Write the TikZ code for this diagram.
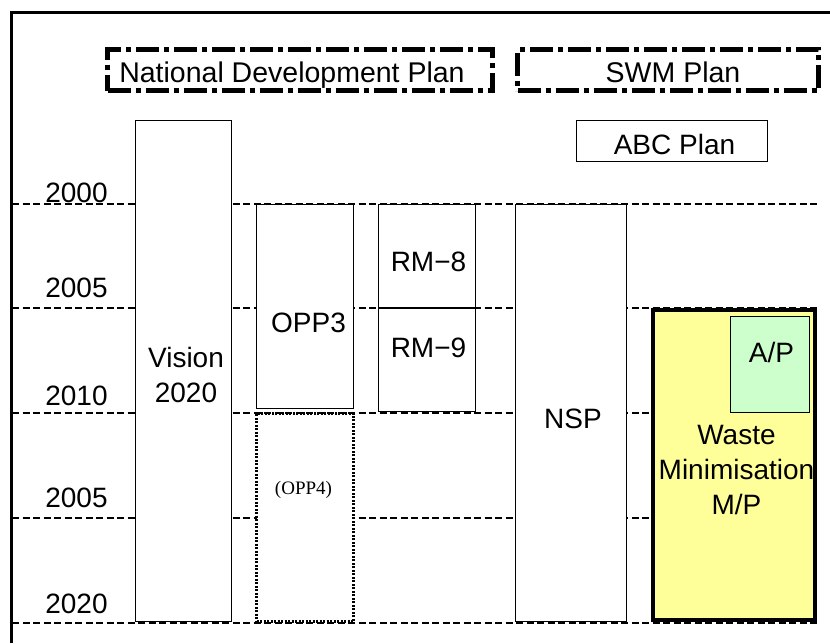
\documentclass[tikz,border=0pt]{standalone}
\usepackage{fontspec}
\setmainfont{Liberation Sans}
\newfontfamily\oppfont{Liberation Serif}
\definecolor{wmyellow}{HTML}{FFFF99}
\definecolor{apgreen}{HTML}{CCFFCC}

\begin{document}
\begin{tikzpicture}[x=1pt, y=-1pt,
    planbox/.style={draw, fill=white, line width=1.8pt, inner sep=0pt},
    headbox/.style={draw, line width=5.5pt, dash pattern=on 23pt off 5pt on 5pt off 5pt, inner sep=0pt},
    gridline/.style={line width=2.6pt, dash pattern=on 7pt off 3.5pt},
    lbl/.style={font=\fontsize{28}{35}\selectfont, inner sep=0pt, anchor=base},
    headlbl/.style={font=\fontsize{28.5}{32}\selectfont, inner sep=0pt, anchor=base}]
    % Page size (830 x 643 px, 1px -> 1pt, y downwards)
    \useasboundingbox (0,0) rectangle (830,643);

    % Outer frame (only left and top edges show)
    \draw[line width=3pt] (11,643) -- (11,12) -- (830,12);

    % Time grid with year labels (line y / label baseline / year)
    \foreach \gy/\by/\yr [count=\k] in {204/202/2000, 308/297/2005, 413/405/2010, 518/507/2005, 623/613/2020} {
        \draw[gridline] (12,\gy) -- (818,\gy);
        \node[lbl] (year\k) at (76.5,\by) {\yr};
    }

    % Plan headers
    \node[headbox, minimum width=385pt, minimum height=41pt] (ndp) at (300,70) {};
    \node[headlbl] (ndptext) at (292,82) {National Development Plan};
    \node[headbox, minimum width=301pt, minimum height=41pt] (swm) at (668,70) {};
    \node[headlbl] (swmtext) at (673,82) {SWM Plan};
    \node[planbox, minimum width=191pt, minimum height=41pt] (abc) at (672,141) {};
    \node[lbl] (abctext) at (674.5,154) {ABC Plan};

    % National development plans
    \node[planbox, minimum width=96pt, minimum height=501pt] (vision) at (183.5,371) {};
    \node[lbl, anchor=center, align=center] (visiontext) at (186,375) {Vision\\2020};
    \node[planbox, minimum width=97pt, minimum height=204pt] (opp3) at (305,306.5) {};
    \node[lbl] (opp3text) at (308.5,332) {OPP3};
    \node[planbox, line width=2.2pt, dash pattern=on 2pt off 1.5pt, minimum width=97pt, minimum height=208pt] (opp4) at (305,517.5) {};
    \node[inner sep=0pt, anchor=base, font=\oppfont\fontsize{19}{22}\selectfont] (opp4text) at (303.5,494) {(OPP4)};
    \node[planbox, minimum width=97pt, minimum height=103pt] (rm8) at (427,256) {};
    \node[lbl] (rm8text) at (428.5,271) {RM−8};
    \node[planbox, minimum width=97pt, minimum height=103pt] (rm9) at (427,360) {};
    \node[lbl] (rm9text) at (428.5,357) {RM−9};

    % SWM plans
    \node[planbox, minimum width=111pt, minimum height=417pt] (nsp) at (571,413) {};
    \node[lbl] (nsptext) at (573,428) {NSP};
    \node[planbox, fill=wmyellow, line width=4pt, minimum width=162pt, minimum height=310pt] (wmmp) at (734,465) {};
    \node[lbl, anchor=center, align=center] (wmmptext) at (736.5,470) {Waste\\Minimisation\\M/P};
    \node[planbox, fill=apgreen, minimum width=79pt, minimum height=96pt] (ap) at (770,364.5) {};
    \node[lbl] (aptext) at (771.5,362) {A/P};
\end{tikzpicture}
\end{document}
